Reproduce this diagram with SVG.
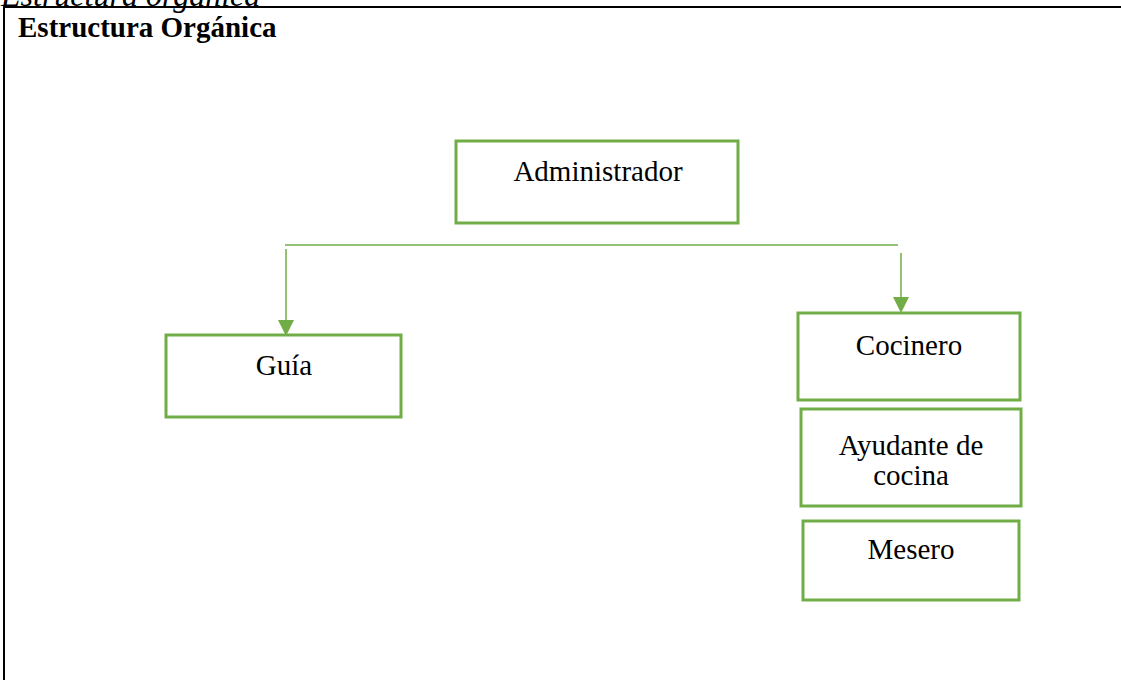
<svg xmlns="http://www.w3.org/2000/svg" width="1121" height="680" viewBox="0 0 1121 680">
<defs>
<style>
.box{fill:#ffffff;stroke:#70AD47;stroke-width:3}
.lbl{font-family:"Liberation Serif","Times New Roman",serif;font-size:29px;fill:#000;text-anchor:middle}
.con{stroke:#70AD47;stroke-width:1.5;fill:none}
.head{fill:#70AD47}
</style>
</defs>
<rect width="1121" height="680" fill="#ffffff"/>
<text x="1" y="6" font-family="Liberation Serif, serif" font-style="italic" font-size="32">Estructura orgánica</text>
<path d="M4,690 V7 H1125" fill="none" stroke="#000" stroke-width="2"/>
<text x="18" y="37" font-family="Liberation Serif, serif" font-weight="bold" font-size="29">Estructura Orgánica</text>
<g id="connectors">
<line class="con" x1="285" y1="245" x2="898" y2="245"/>
<line class="con" x1="286" y1="249" x2="286" y2="321"/>
<path class="head" d="M0,0 L16,0 L8,16 Z" transform="translate(278,320)"/>
<line class="con" x1="901" y1="253" x2="901" y2="298"/>
<path class="head" d="M0,0 L16,0 L8,16 Z" transform="translate(893,297)"/>
</g>
<g id="administrador">
<rect class="box" x="456" y="141" width="282" height="82"/>
<text class="lbl" x="598" y="181">Administrador</text>
</g>
<g id="guia">
<rect class="box" x="166" y="335" width="235" height="82"/>
<text class="lbl" x="284" y="375">Guía</text>
</g>
<g id="cocinero">
<rect class="box" x="798" y="313" width="222" height="87"/>
<text class="lbl" x="909" y="355">Cocinero</text>
</g>
<g id="ayudante">
<rect class="box" x="801" y="409" width="220" height="97"/>
<text class="lbl" x="911" y="455">Ayudante de</text>
<text class="lbl" x="911" y="485">cocina</text>
</g>
<g id="mesero">
<rect class="box" x="803" y="521" width="216" height="79"/>
<text class="lbl" x="911" y="559">Mesero</text>
</g>
</svg>
